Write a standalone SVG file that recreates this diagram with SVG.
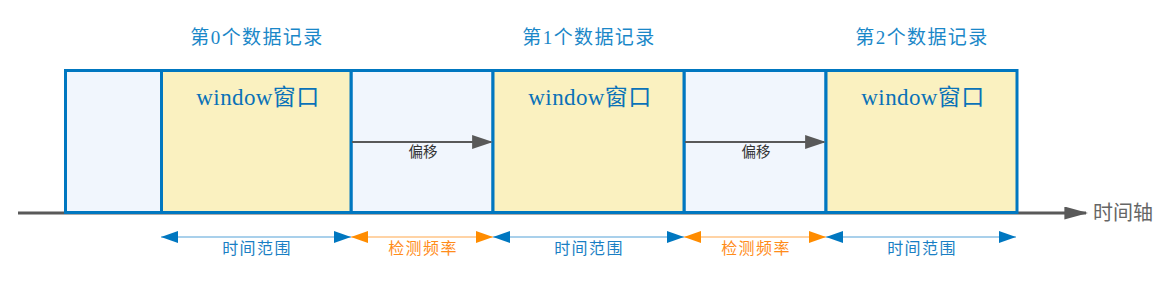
<svg xmlns="http://www.w3.org/2000/svg" width="1172" height="281" viewBox="0 0 1172 281">
<style>
.t{font-family:"Liberation Serif","Noto Sans CJK SC",serif;fill:#1a87c8;text-anchor:middle}
.ttl{font-size:19px;letter-spacing:1.4px}
.win{font-size:23px;letter-spacing:0.4px;fill:#0a72b8}
.lbl{font-family:"Liberation Sans","Noto Sans CJK SC",sans-serif;font-size:16px;letter-spacing:1.4px;text-anchor:middle}
.off{font-size:14.5px;fill:#333;letter-spacing:0}
.blue{fill:#1a7fc4}
.orange{fill:#ff8c1a}
.gap{fill:#f1f6fd;stroke:#0077c0;stroke-width:3}
.win-box{fill:#faf1c0;stroke:#0077c0;stroke-width:3}
</style>
<defs>
<marker id="ga" viewBox="0 0 10 10" refX="9" refY="5" markerWidth="24" markerHeight="13" markerUnits="userSpaceOnUse" orient="auto" preserveAspectRatio="none"><path d="M0,0 L10,5 L0,10 z" fill="#595959"/></marker>
<marker id="gs" viewBox="0 0 10 10" refX="9" refY="5" markerWidth="21" markerHeight="14" markerUnits="userSpaceOnUse" orient="auto" preserveAspectRatio="none"><path d="M0,0 L10,5 L0,10 z" fill="#595959"/></marker>
<marker id="ba" viewBox="0 0 10 10" refX="10" refY="5" markerWidth="17" markerHeight="12" markerUnits="userSpaceOnUse" orient="auto-start-reverse" preserveAspectRatio="none"><path d="M0,0 L10,5 L0,10 z" fill="#0077c0"/></marker>
<marker id="oa" viewBox="0 0 10 10" refX="10" refY="5" markerWidth="17" markerHeight="12" markerUnits="userSpaceOnUse" orient="auto-start-reverse" preserveAspectRatio="none"><path d="M0,0 L10,5 L0,10 z" fill="#ff8c00"/></marker>
</defs>
<g id="axis">
<line x1="18" y1="213" x2="1086" y2="213" stroke="#595959" stroke-width="3" marker-end="url(#ga)"/>
<text x="1093" y="220" font-family="Liberation Sans,'Noto Sans CJK SC',sans-serif" font-size="20" fill="#666">时间轴</text>
</g>
<g id="gap0"><rect class="gap" x="65.5" y="70.5" width="96" height="142"/></g>
<g id="gap1"><rect class="gap" x="351" y="70.5" width="142" height="142"/></g>
<g id="gap2"><rect class="gap" x="684" y="70.5" width="142" height="142"/></g>
<g id="win0"><rect class="win-box" x="161.5" y="70.5" width="189.5" height="142"/><text class="t win" x="258" y="105">window窗口</text></g>
<g id="win1"><rect class="win-box" x="493" y="70.5" width="191" height="142"/><text class="t win" x="590" y="105">window窗口</text></g>
<g id="win2"><rect class="win-box" x="826" y="70.5" width="191" height="142"/><text class="t win" x="923" y="105">window窗口</text></g>
<g id="titles">
<text class="t ttl" x="257" y="44">第0个数据记录</text>
<text class="t ttl" x="589" y="44">第1个数据记录</text>
<text class="t ttl" x="922" y="44">第2个数据记录</text>
</g>
<g id="connectors">
<line x1="352" y1="142" x2="491" y2="142" stroke="#595959" stroke-width="2" marker-end="url(#gs)"/>
<line x1="685" y1="142" x2="824" y2="142" stroke="#595959" stroke-width="2" marker-end="url(#gs)"/>
<line x1="161" y1="237" x2="351" y2="237" stroke="#8cc0e4" stroke-width="1.5" marker-start="url(#ba)" marker-end="url(#ba)"/>
<line x1="351" y1="237" x2="493" y2="237" stroke="#ffc587" stroke-width="1.5" marker-start="url(#oa)" marker-end="url(#oa)"/>
<line x1="493" y1="237" x2="684" y2="237" stroke="#8cc0e4" stroke-width="1.5" marker-start="url(#ba)" marker-end="url(#ba)"/>
<line x1="684" y1="237" x2="826" y2="237" stroke="#ffc587" stroke-width="1.5" marker-start="url(#oa)" marker-end="url(#oa)"/>
<line x1="826" y1="237" x2="1016" y2="237" stroke="#8cc0e4" stroke-width="1.5" marker-start="url(#ba)" marker-end="url(#ba)"/>
</g>
<g id="labels">
<text class="lbl off" x="423" y="157">偏移</text>
<text class="lbl off" x="756" y="157">偏移</text>
<text class="lbl blue" x="257" y="254">时间范围</text>
<text class="lbl orange" x="423" y="254">检测频率</text>
<text class="lbl blue" x="589" y="254">时间范围</text>
<text class="lbl orange" x="756" y="254">检测频率</text>
<text class="lbl blue" x="922" y="254">时间范围</text>
</g>
</svg>
